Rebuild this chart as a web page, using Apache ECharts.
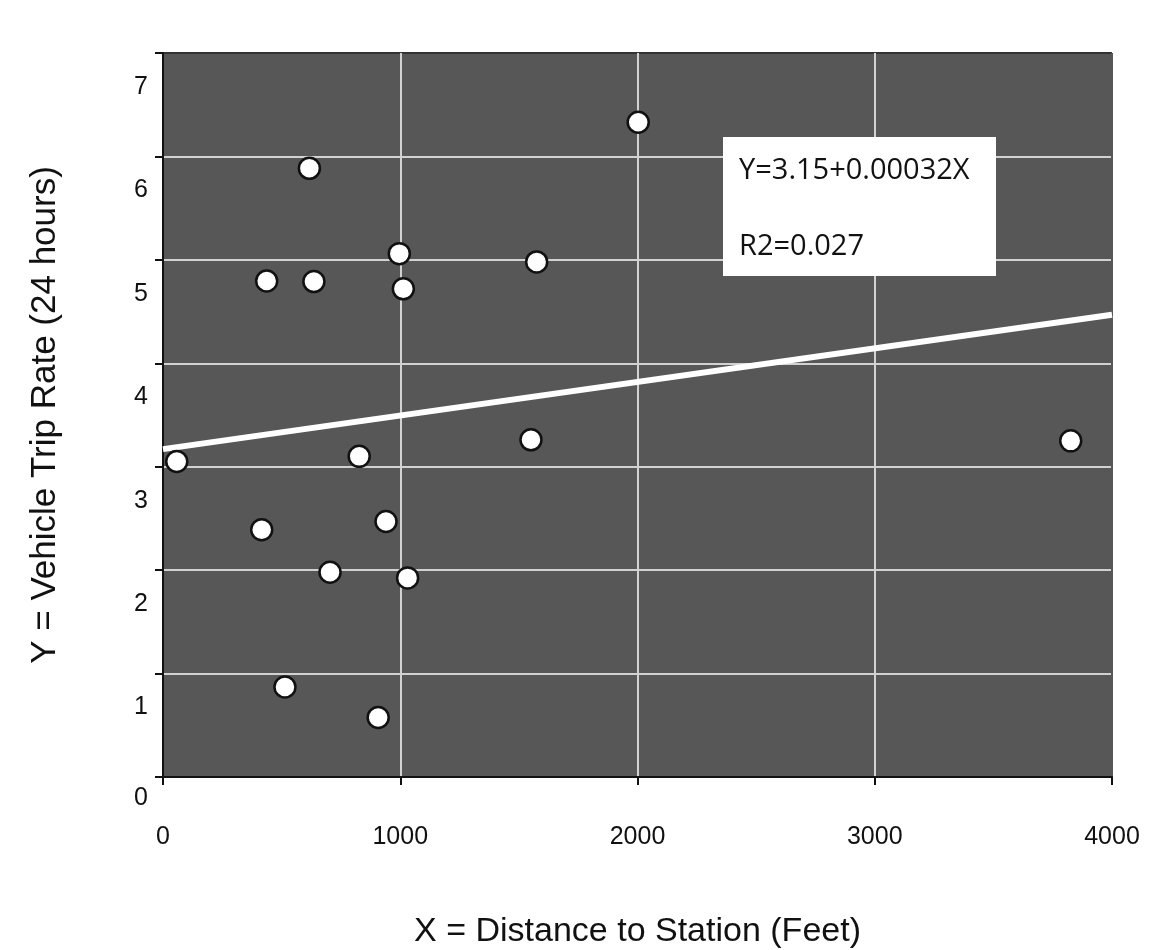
<!DOCTYPE html>
<html><head><meta charset="utf-8">
<script src="https://cdn.jsdelivr.net/npm/echarts@6/dist/echarts.min.js"></script>
<style>html,body{margin:0;padding:0;background:#fff}#c{width:1151px;height:950px}</style>
</head><body><div id="c"></div>
<script>
// Data
const distanceFt = [58, 617, 2003, 437, 636, 996, 1013, 1575, 1551, 827, 416, 940, 704, 1031, 514, 907, 3826];
const tripRate   = [3.05, 5.885, 6.33, 4.795, 4.79, 5.06, 4.72, 4.98, 3.26, 3.10, 2.39, 2.47, 1.98, 1.925, 0.87, 0.575, 3.25];
const fitX = [0, 4000];
const fitY = [3.17, 4.47];
const xTicks = [0, 1000, 2000, 3000, 4000];
const yTicks = [0, 1, 2, 3, 4, 5, 6, 7];
const eqnLines = ['Y=3.15+0.00032X', 'R2=0.027'];
const xTitle = 'X = Distance to Station (Feet)';
const yTitle = 'Y = Vehicle Trip Rate (24 hours)';

const points = distanceFt.map((x, i) => [x, tripRate[i]]);
const fitLine = fitX.map((x, i) => [x, fitY[i]]);

const chart = echarts.init(document.getElementById('c'), null, {renderer: 'canvas'});
const gridCol = '#d2d2d2';
const bg = '#575757';
chart.setOption({
  animation: false,
  backgroundColor: '#ffffff',
  grid: {left: 163, right: 39, top: 53, bottom: 173, show: true, backgroundColor: bg, borderWidth: 0,
         containLabel: false, outerBoundsMode: 'none'},
  xAxis: {
    type: 'value', min: xTicks[0], max: xTicks[xTicks.length - 1], interval: 1000,
    name: xTitle, nameLocation: 'middle', nameGap: 138,
    nameTextStyle: {fontFamily: 'Liberation Sans', fontSize: 34, color: '#111'},
    axisLine: {show: true, onZero: false, lineStyle: {color: '#111', width: 2}},
    axisTick: {show: true, inside: false, length: 8, lineStyle: {color: '#111', width: 2}},
    axisLabel: {fontFamily: 'Liberation Sans', fontSize: 25, color: '#111', margin: 48, formatter: v => String(v)},
    splitLine: {show: true, lineStyle: {color: [gridCol, gridCol, gridCol, gridCol, bg], width: 2}}
  },
  yAxis: {
    type: 'value', min: yTicks[0], max: yTicks[yTicks.length - 1], interval: 1,
    name: yTitle, nameLocation: 'middle', nameGap: 100, nameRotate: 90,
    nameTextStyle: {fontFamily: 'Liberation Sans', fontSize: 35, color: '#111'},
    axisLine: {show: true, onZero: false, lineStyle: {color: '#111', width: 2}},
    axisTick: {show: true, inside: false, length: 8, lineStyle: {color: '#111', width: 2}},
    axisLabel: {
      margin: 15, color: '#111',
      formatter: v => v === 0 ? '{z|' + v + '}' : '{n|' + v + '}',
      rich: {
        n: {fontFamily: 'Liberation Sans', fontSize: 25, color: '#111', padding: [68, 0, 0, 0]},
        z: {fontFamily: 'Liberation Sans', fontSize: 25, color: '#111', padding: [42, 0, 0, 0]}
      }
    },
    splitLine: {show: true, lineStyle: {color: [gridCol, gridCol, gridCol, gridCol, gridCol, gridCol, gridCol, '#333333'], width: 2}}
  },
  series: [
    {
      type: 'line', data: fitLine, showSymbol: false, symbol: 'none', z: 2,
      lineStyle: {color: '#ffffff', width: 6}
    },
    {
      type: 'scatter', data: points, symbol: 'circle', symbolSize: 21, z: 3,
      itemStyle: {color: '#ffffff', borderColor: '#111111', borderWidth: 2.5, opacity: 1}
    }
  ],
  graphic: [
    {type: 'rect', z: 100, zlevel: 1, shape: {x: 723, y: 137, width: 273, height: 139}, style: {fill: '#ffffff'}},
    {type: 'text', z: 101, zlevel: 1, style: {x: 739, y: 171, text: eqnLines[0], font: '29px "Open Sans"', fill: '#111', verticalAlign: 'middle'}},
    {type: 'text', z: 101, zlevel: 1, style: {x: 739, y: 247, text: eqnLines[1], font: '29px "Open Sans"', fill: '#111', verticalAlign: 'middle'}}
  ]
});
</script>
</body></html>
